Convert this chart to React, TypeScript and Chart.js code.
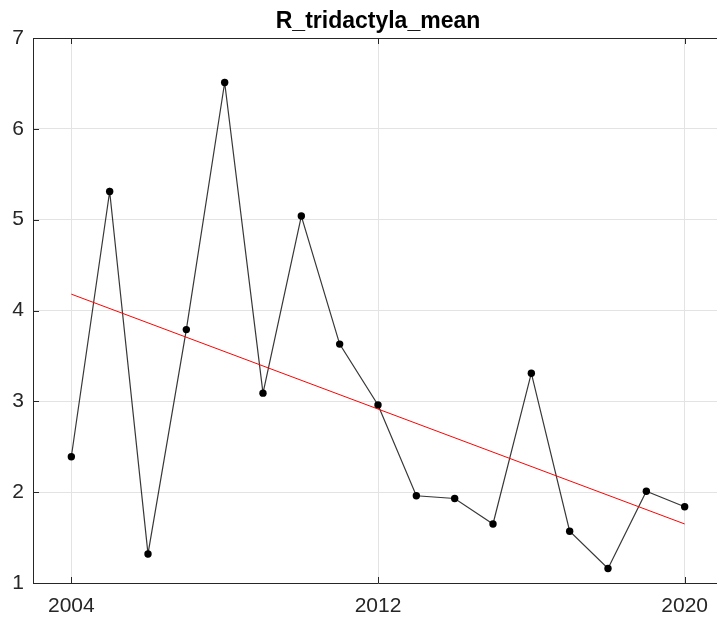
import React, { useEffect, useRef } from "react";
import { Chart, registerables } from "chart.js";

Chart.register(...registerables);

const years = [2004, 2005, 2006, 2007, 2008, 2009, 2010, 2011, 2012, 2013, 2014, 2015, 2016, 2017, 2018, 2019, 2020];
const values = [2.39, 5.31, 1.32, 3.79, 6.51, 3.09, 5.04, 3.63, 2.96, 1.96, 1.93, 1.65, 3.31, 1.57, 1.16, 2.01, 1.84];
const trendYears = [2004, 2020];
const trendValues = [4.18, 1.65];
const xTicks = [2004, 2012, 2020];
const yTicks = [1, 2, 3, 4, 5, 6, 7];
const title = "R_tridactyla_mean";

const FONT = "'Liberation Sans', Arial, Helvetica, sans-serif";
const AXIS = "#262626";
const GRID = "#e3e3e3";

const frame = {
  id: "frame",
  afterDatasetsDraw(chart: any) {
    const { ctx, chartArea, scales } = chart;
    const { left, right, top, bottom } = chartArea;
    ctx.save();
    ctx.strokeStyle = AXIS;
    ctx.lineWidth = 1;
    ctx.beginPath();
    ctx.moveTo(left, top + 0.5);
    ctx.lineTo(right, top + 0.5);
    ctx.moveTo(right - 0.5, top);
    ctx.lineTo(right - 0.5, bottom);
    const tl = 6;
    xTicks.forEach((v) => {
      const px = Math.round(scales.x.getPixelForValue(v)) + 0.5;
      ctx.moveTo(px, bottom);
      ctx.lineTo(px, bottom - tl);
      ctx.moveTo(px, top);
      ctx.lineTo(px, top + tl);
    });
    yTicks.forEach((v) => {
      const py = Math.round(scales.y.getPixelForValue(v)) + 0.5;
      ctx.moveTo(left, py);
      ctx.lineTo(left + tl, py);
      ctx.moveTo(right, py);
      ctx.lineTo(right - tl, py);
    });
    ctx.stroke();
    ctx.restore();
  },
};

export default function App() {
  const ref = useRef<HTMLCanvasElement>(null);
  useEffect(() => {
    const canvas = ref.current;
    if (!canvas) return;
    const chart = new Chart(canvas, {
      type: "line",
      data: {
        datasets: [
          {
            label: "trend",
            data: trendYears.map((x, i) => ({ x, y: trendValues[i] })),
            borderColor: "#ff0000",
            borderWidth: 1,
            pointRadius: 0,
            fill: false,
          },
          {
            label: "mean",
            data: years.map((x, i) => ({ x, y: values[i] })),
            borderColor: "rgba(20,20,20,0.85)",
            borderWidth: 1.2,
            pointRadius: 3.7,
            pointBackgroundColor: "#000",
            pointBorderColor: "#000",
            pointBorderWidth: 0,
            fill: false,
            tension: 0,
          },
        ],
      },
      options: {
        animation: false,
        responsive: false,
        devicePixelRatio: 1,
        layout: { autoPadding: false, padding: { left: 0, right: 0, top: 0, bottom: 0 } },
        plugins: {
          legend: { display: false },
          tooltip: { enabled: false },
          title: {
            display: true,
            fullSize: false,
            text: title,
            color: "#000",
            font: { family: FONT, size: 23, weight: "bold" },
            padding: { top: 7.5, bottom: 2.9 },
          },
        },
        scales: {
          x: {
            type: "linear",
            min: 2003,
            max: 2021,
            afterBuildTicks: (s: any) => {
              s.ticks = xTicks.map((v) => ({ value: v }));
            },
            afterFit: (s: any) => {
              s.height = 38;
              s.paddingLeft = 0;
              s.paddingRight = 0;
            },
            ticks: {
              color: AXIS,
              font: { family: FONT, size: 21 },
              padding: 10.4,
              maxRotation: 0,
              autoSkip: false,
              callback: (v: any) => String(v),
            },
            grid: { color: GRID, drawTicks: false, lineWidth: 1 },
            border: { color: AXIS, width: 1 },
          },
          y: {
            type: "linear",
            min: 1,
            max: 7,
            afterBuildTicks: (s: any) => {
              s.ticks = yTicks.map((v) => ({ value: v }));
            },
            afterFit: (s: any) => {
              s.width = 33;
              s.paddingTop = 0;
              s.paddingBottom = 0;
            },
            ticks: {
              color: AXIS,
              font: { family: FONT, size: 21 },
              padding: 9,
              callback: (v: any) => String(v),
            },
            grid: { color: GRID, drawTicks: false, lineWidth: 1 },
            border: { color: AXIS, width: 1 },
          },
        },
      },
      plugins: [frame],
    });
    return () => chart.destroy();
  }, []);
  return (
    <div style={{ position: "absolute", left: 0, top: 0, width: 717, height: 621, background: "#fff", overflow: "hidden" }}>
      <canvas ref={ref} width={723} height={621} style={{ display: "block" }} />
    </div>
  );
}
